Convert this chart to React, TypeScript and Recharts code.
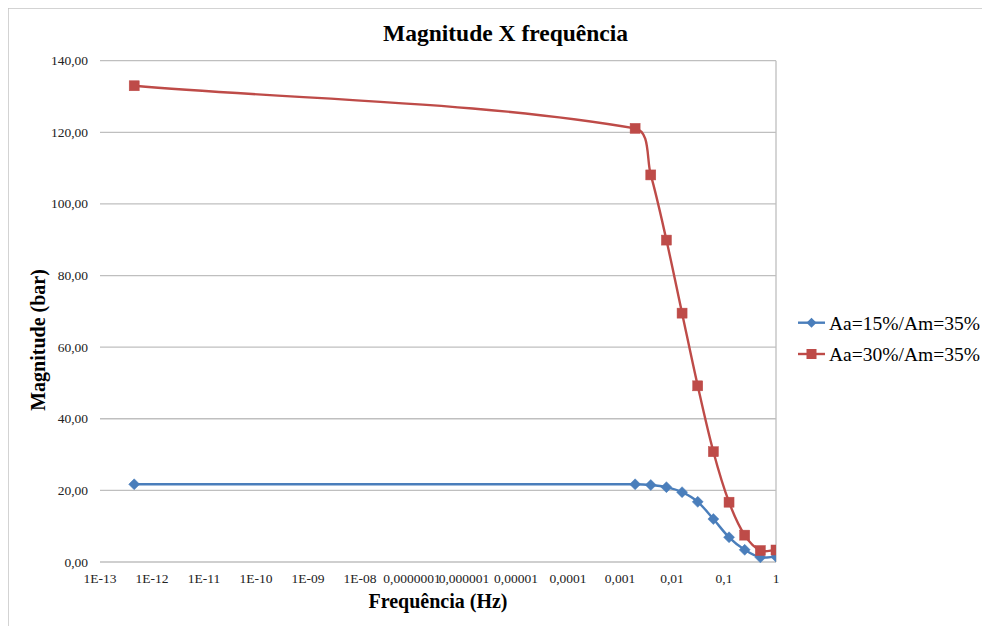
import React from "react";
import { LineChart, Line, XAxis, YAxis, CartesianGrid, ReferenceLine } from "recharts";

// Data
const frequencies = [4.547e-13, 0.001953125, 0.00390625, 0.0078125, 0.015625, 0.03125, 0.0625, 0.125, 0.25, 0.5, 1];
const seriesA = [21.7, 21.7, 21.5, 20.9, 19.5, 16.8, 12.0, 6.9, 3.4, 1.3, 1.5]; // Aa=15%/Am=35%
const seriesB = [133.0, 121.1, 108.1, 89.9, 69.5, 49.2, 30.8, 16.7, 7.5, 3.2, 3.35]; // Aa=30%/Am=35%
const xTicks = [1e-13, 1e-12, 1e-11, 1e-10, 1e-9, 1e-8, 1e-7, 1e-6, 1e-5, 1e-4, 1e-3, 1e-2, 1e-1, 1];
const xTickLabels = ["1E-13", "1E-12", "1E-11", "1E-10", "1E-09", "1E-08", "0,0000001", "0,000001", "0,00001", "0,0001", "0,001", "0,01", "0,1", "1"];
const yTicks = [0, 20, 40, 60, 80, 100, 120, 140];
const seriesNames = ["Aa=15%/Am=35%", "Aa=30%/Am=35%"];

const data = frequencies.map((f, i) => ({ f, a: seriesA[i], b: seriesB[i] }));

const BLUE = "#4a7ebb";
const RED = "#be4b48";
const GRID = "#bfbfbf";
const FONT = "Liberation Serif";

// Excel-like smoothing: chord-weighted Catmull-Rom bezier
function excelCurve(context: any) {
  let pts: number[][] = [];
  return {
    areaStart() {},
    areaEnd() {},
    lineStart() {
      pts = [];
    },
    point(x: number, y: number) {
      pts.push([+x, +y]);
    },
    lineEnd() {
      const n = pts.length;
      if (!n) return;
      context.moveTo(pts[0][0], pts[0][1]);
      if (n === 1) return;
      const d = (p: number[], q: number[]) => Math.hypot(q[0] - p[0], q[1] - p[1]);
      const s = 1 / 3;
      for (let i = 0; i < n - 1; i++) {
        const p0 = pts[Math.max(0, i - 1)];
        const p1 = pts[i];
        const p2 = pts[i + 1];
        const p3 = pts[Math.min(n - 1, i + 2)];
        const d01 = d(p0, p1);
        const d12 = d(p1, p2);
        const d23 = d(p2, p3);
        const w1 = d01 + d12 > 0 ? d12 / (d01 + d12) : 0;
        const w2 = d12 + d23 > 0 ? d12 / (d12 + d23) : 0;
        const c1x = p1[0] + (p2[0] - p0[0]) * w1 * s;
        const c1y = p1[1] + (p2[1] - p0[1]) * w1 * s;
        const c2x = p2[0] - (p3[0] - p1[0]) * w2 * s;
        const c2y = p2[1] - (p3[1] - p1[1]) * w2 * s;
        context.bezierCurveTo(c1x, c1y, c2x, c2y, p2[0], p2[1]);
      }
    },
  };
}

const Diamond = (props: any) => {
  const { cx, cy, index } = props;
  if (cx == null || cy == null) return <g key={`d-${index}`} />;
  const r = 5.5;
  return (
    <path
      key={`d-${index}`}
      d={`M${cx},${cy - r}L${cx + r},${cy}L${cx},${cy + r}L${cx - r},${cy}Z`}
      fill={BLUE}
      stroke={BLUE}
      strokeWidth={0.5}
    />
  );
};

const Square = (props: any) => {
  const { cx, cy, index } = props;
  if (cx == null || cy == null) return <g key={`s-${index}`} />;
  const r = 5;
  return <rect key={`s-${index}`} x={cx - r} y={cy - r} width={2 * r} height={2 * r} fill={RED} stroke={RED} strokeWidth={0.5} />;
};

const fmtY = (v: number) => `${v},00`;
const fmtX = (v: number) => {
  const i = xTicks.findIndex((t) => Math.abs(Math.log10(t) - Math.log10(v)) < 1e-6);
  return i >= 0 ? xTickLabels[i] : String(v);
};

const XTick = (props: any) => {
  const { x, y, payload } = props;
  return (
    <text x={x} y={y} dy={10} textAnchor="middle" fontFamily={FONT} fontSize={13.5} fill="#222">
      {fmtX(payload.value)}
    </text>
  );
};

const YTick = (props: any) => {
  const { x, y, payload } = props;
  return (
    <text x={x} y={y} dy={4.5} textAnchor="end" fontFamily={FONT} fontSize={13.5} fill="#222">
      {fmtY(payload.value)}
    </text>
  );
};

export default function App() {
  return (
    <div style={{ position: "relative", width: 982, height: 618 }}>
      <LineChart
        width={982}
        height={618}
        data={data}
        margin={{ top: 52.7, right: 214, bottom: 34, left: 0 }}
      >
        <CartesianGrid horizontal vertical={false} stroke={GRID} strokeWidth={1.3} />
        <XAxis
          dataKey="f"
          type="number"
          scale="log"
          domain={[1e-13, 1]}
          allowDataOverflow
          ticks={xTicks}
          interval={0}
          axisLine={false}
          tickLine={false}
          tickSize={0}
          tickMargin={11}
          height={30}
          tick={<XTick />}
        />
        <YAxis
          type="number"
          domain={[0, 140]}
          ticks={yTicks}
          interval={0}
          axisLine={false}
          tickLine={false}
          tickSize={0}
          tickMargin={12}
          width={92}
          tick={<YTick />}
        />
        <ReferenceLine x={1} stroke={GRID} strokeWidth={1.3} />
        <Line
          dataKey="a"
          name={seriesNames[0]}
          type={excelCurve as any}
          stroke={BLUE}
          strokeWidth={2.4}
          dot={Diamond}
          activeDot={false}
          isAnimationActive={false}
        />
        <Line
          dataKey="b"
          name={seriesNames[1]}
          type={excelCurve as any}
          stroke={RED}
          strokeWidth={2.4}
          dot={Square}
          activeDot={false}
          isAnimationActive={false}
        />
      </LineChart>
      <svg
        width={990}
        height={626}
        style={{ position: "absolute", left: -8, top: -8, pointerEvents: "none" }}
      >
        <line x1={8} y1={8} x2={990} y2={8} stroke="#c4c4c4" strokeWidth={1.5} />
        <line x1={8} y1={8} x2={8} y2={626} stroke="#c4c4c4" strokeWidth={1.5} />
        <text x={505.5} y={41} textAnchor="middle" fontFamily={FONT} fontWeight="bold" fontSize={23.5} fill="#000">
          Magnitude X frequência
        </text>
        <text x={438} y={608} textAnchor="middle" fontFamily={FONT} fontWeight="bold" fontSize={20} fill="#000">
          Frequência (Hz)
        </text>
        <text
          x={45}
          y={340}
          textAnchor="middle"
          fontFamily={FONT}
          fontWeight="bold"
          fontSize={20}
          fill="#000"
          transform="rotate(-90 45 340)"
        >
          Magnitude (bar)
        </text>
        {/* Legend */}
        <line x1={798} y1={322.7} x2={825} y2={322.7} stroke={BLUE} strokeWidth={2.4} />
        <path d="M811.5,317.7L816.5,322.7L811.5,327.7L806.5,322.7Z" fill={BLUE} />
        <text x={829} y={329.5} fontFamily={FONT} fontSize={19.5} fill="#000">
          {seriesNames[0]}
        </text>
        <line x1={798} y1={354} x2={825} y2={354} stroke={RED} strokeWidth={2.4} />
        <rect x={806.5} y={349} width={10} height={10} fill={RED} />
        <text x={829} y={360.8} fontFamily={FONT} fontSize={19.5} fill="#000">
          {seriesNames[1]}
        </text>
      </svg>
    </div>
  );
}
